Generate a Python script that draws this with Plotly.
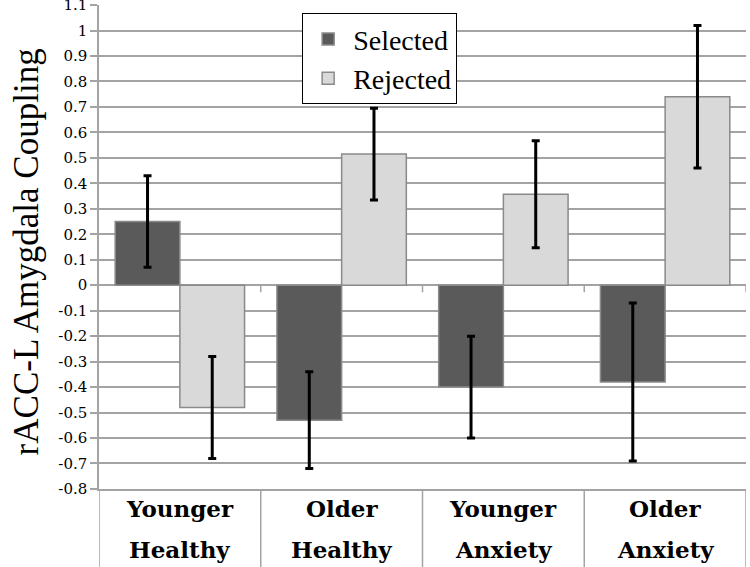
import plotly.graph_objects as go

categories = ["Younger Healthy", "Older Healthy", "Younger Anxiety", "Older Anxiety"]
cat_line1 = ["Younger", "Older", "Younger", "Older"]
cat_line2 = ["Healthy", "Healthy", "Anxiety", "Anxiety"]

selected = [0.25, -0.53, -0.40, -0.38]
selected_err = [0.18, 0.19, 0.20, 0.31]
rejected = [-0.48, 0.515, 0.357, 0.74]
rejected_err = [0.20, 0.18, 0.21, 0.28]

tick_vals = [1.1, 1.0, 0.9, 0.8, 0.7, 0.6, 0.5, 0.4, 0.3, 0.2, 0.1, 0.0,
             -0.1, -0.2, -0.3, -0.4, -0.5, -0.6, -0.7, -0.8]
tick_text = ["1.1", "1", "0.9", "0.8", "0.7", "0.6", "0.5", "0.4", "0.3", "0.2", "0.1", "0",
             "-0.1", "-0.2", "-0.3", "-0.4", "-0.5", "-0.6", "-0.7", "-0.8"]

GRID = "#a3a3a3"
BORDER = "#8a8a8a"

fig = go.Figure()
fig.add_trace(go.Bar(
    name="Selected", x=categories, y=selected,
    marker=dict(color="#5a5a5a", line=dict(color=BORDER, width=1.5)),
    error_y=dict(type="data", array=selected_err, symmetric=True,
                 color="black", thickness=3, width=4),
))
fig.add_trace(go.Bar(
    name="Rejected", x=categories, y=rejected,
    marker=dict(color="#d9d9d9", line=dict(color=BORDER, width=1.5)),
    error_y=dict(type="data", array=rejected_err, symmetric=True,
                 color="black", thickness=3, width=4),
))

shapes = []
# vertical separators in the category label area
for xb in [-0.5, 0.5, 1.5, 2.5, 3.5]:
    shapes.append(dict(type="line", xref="x", yref="paper", x0=xb, x1=xb,
                       y0=0, y1=-0.2, line=dict(color=GRID, width=1.5)))
# small tick marks on the zero axis
for xb in [0.5, 1.5, 2.5, 3.5]:
    shapes.append(dict(type="line", xref="x", yref="y", x0=xb, x1=xb,
                       y0=0, y1=-0.028, line=dict(color=GRID, width=1.5)))

annotations = []
for c, l1, l2 in zip(categories, cat_line1, cat_line2):
    annotations.append(dict(x=c, xref="x", y=-0.04, yref="paper", text="<b>%s</b>" % l1,
                            showarrow=False, yanchor="middle",
                            font=dict(family="DejaVu Serif", size=23, color="black")))
    annotations.append(dict(x=c, xref="x", y=-0.125, yref="paper", text="<b>%s</b>" % l2,
                            showarrow=False, yanchor="middle",
                            font=dict(family="DejaVu Serif", size=23, color="black")))
annotations.append(dict(x=-0.112, xref="paper", y=0.49, yref="paper",
                        text="rACC-L Amygdala Coupling", textangle=-90, showarrow=False,
                        xanchor="center", yanchor="middle",
                        font=dict(family="Liberation Serif", size=35, color="black")))

fig.update_layout(
    width=750, height=567,
    margin=dict(l=99, r=4, t=5, b=78, autoexpand=False),
    paper_bgcolor="white", plot_bgcolor="white",
    barmode="group", bargap=0.2, bargroupgap=0,
    font=dict(family="Liberation Serif", color="black"),
    xaxis=dict(range=[-0.5, 3.5], showticklabels=False, showgrid=False, ticks="",
               showline=True, linecolor=GRID, linewidth=1.5, zeroline=False,
               automargin=False),
    yaxis=dict(range=[-0.8002, 1.1002], tickvals=tick_vals, ticktext=tick_text,
               showgrid=True, gridcolor=GRID, gridwidth=1.5,
               showline=True, linecolor=GRID, linewidth=1.5,
               ticks="outside", ticklen=7, tickcolor=GRID, tickwidth=1.5,
               zeroline=True, zerolinecolor=GRID, zerolinewidth=1.5,
               automargin=False, ticklabeloverflow="allow",
               tickfont=dict(family="DejaVu Serif", size=15, color="black")),
    legend=dict(x=0.314, y=0.983, xanchor="left", yanchor="top",
                bgcolor="white", bordercolor="black", borderwidth=1,
                font=dict(family="Liberation Serif", size=28, color="black"),
                tracegroupgap=0, itemwidth=40),
    shapes=shapes, annotations=annotations, showlegend=True,
)

fig.write_html("out.html", config={"displayModeBar": False},
               post_script="document.body.style.margin='0';document.body.style.padding='0';")
